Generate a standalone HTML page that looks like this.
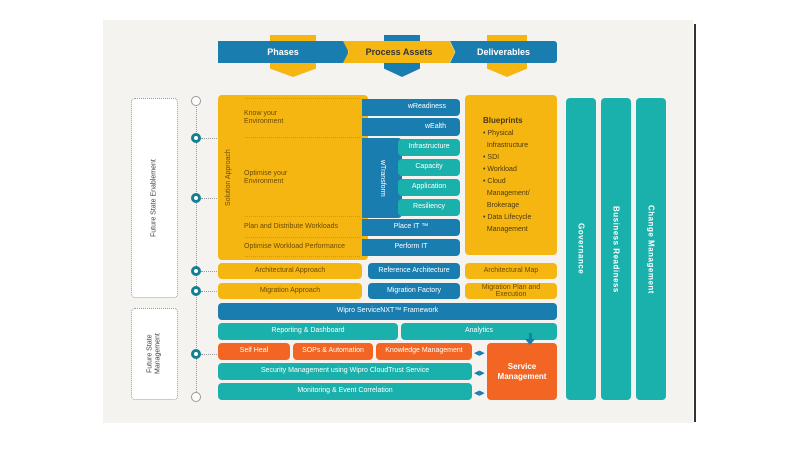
<!DOCTYPE html>
<html><head><style>
body{margin:0;width:800px;height:450px;background:#fff;position:relative;overflow:hidden;font-family:"Liberation Sans",sans-serif}
.a{position:absolute;box-sizing:border-box;display:flex;align-items:center;justify-content:center;text-align:center;font-size:7px;color:#fff;border-radius:4px;line-height:1.15}
.y{background:#f6b612;color:#6b4a00}.b{background:#1a7db0}.t{background:#1ab0ab}.o{background:#f26522}
.c{position:absolute;width:10px;height:10px;border-radius:50%;box-sizing:border-box;border:3px solid #117f95;background:#fff}
.v{writing-mode:vertical-rl;font-weight:bold;font-size:8px;letter-spacing:.5px}
.dl{position:absolute;border-top:1px dotted #999;width:20px}
</style></head><body>
<div style="position:absolute;left:103px;top:20px;width:590px;height:403px;background:#f4f3ef"></div>
<div style="position:absolute;left:694px;top:24px;width:2px;height:398px;background:#333"></div>
<!-- header -->
<div style="position:absolute;left:270px;top:35px;width:46px;height:42px;background:#f6b612;clip-path:polygon(0 0,100% 0,100% 80%,50% 100%,0 80%)"></div>
<div style="position:absolute;left:384px;top:35px;width:36px;height:42px;background:#1a7db0;clip-path:polygon(0 0,100% 0,100% 80%,50% 100%,0 80%)"></div>
<div style="position:absolute;left:487px;top:35px;width:40px;height:42px;background:#f6b612;clip-path:polygon(0 0,100% 0,100% 80%,50% 100%,0 80%)"></div>
<div class="a b" style="left:218px;top:41px;width:130px;height:22px;border-radius:0;font-weight:bold;font-size:9px">Phases</div>
<div class="a y" style="left:343px;top:41px;width:112px;height:22px;border-radius:0;font-weight:bold;font-size:9px;color:#333;clip-path:polygon(0 0,95% 0,100% 50%,95% 100%,0 100%,5% 50%)">Process Assets</div>
<div class="a b" style="left:450px;top:41px;width:107px;height:22px;border-radius:0 3px 3px 0;font-weight:bold;font-size:9px;clip-path:polygon(0 0,100% 0,100% 100%,0 100%,5% 50%)">Deliverables</div>
<!-- left -->
<div style="position:absolute;left:131px;top:98px;width:47px;height:200px;border:1px dotted #999;box-sizing:border-box;border-radius:4px;background:#fff"></div>
<div style="position:absolute;left:131px;top:308px;width:47px;height:92px;border:1px dotted #999;box-sizing:border-box;border-radius:4px;background:#fff"></div>
<div class="a" style="left:131px;top:98px;width:47px;height:200px;color:#444;writing-mode:vertical-rl;transform:rotate(180deg);font-size:7px">Future State Enablement</div>
<div class="a" style="left:131px;top:308px;width:47px;height:92px;color:#444;writing-mode:vertical-rl;transform:rotate(180deg);font-size:7px">Future State<br>Management</div>
<div style="position:absolute;left:196px;top:102px;height:294px;border-left:1px dotted #999"></div>
<div class="c" style="left:191px;top:96px;border:1px solid #999"></div>
<div class="c" style="left:191px;top:392px;border:1px solid #999"></div>
<div class="c" style="left:191px;top:133px"></div><div class="dl" style="left:201px;top:138px"></div>
<div class="c" style="left:191px;top:193px"></div><div class="dl" style="left:201px;top:198px"></div>
<div class="c" style="left:191px;top:266px"></div><div class="dl" style="left:201px;top:271px"></div>
<div class="c" style="left:191px;top:286px"></div><div class="dl" style="left:201px;top:291px"></div>
<div class="c" style="left:191px;top:349px"></div><div class="dl" style="left:201px;top:354px"></div>
<!-- main yellow -->
<div class="a y" style="left:218px;top:95px;width:150px;height:165px"></div>
<div class="a" style="left:222px;top:98px;width:14px;height:160px;color:#6b4a00;writing-mode:vertical-rl;transform:rotate(180deg)">Solution Approach</div>
<div style="position:absolute;left:245px;top:98px;width:115px;border-top:1px dotted #8a7"></div>
<div style="position:absolute;left:245px;top:137px;width:115px;border-top:1px dotted #8a7"></div>
<div style="position:absolute;left:245px;top:216px;width:115px;border-top:1px dotted #8a7"></div>
<div style="position:absolute;left:245px;top:237px;width:115px;border-top:1px dotted #8a7"></div>
<div style="position:absolute;left:245px;top:256px;width:115px;border-top:1px dotted #8a7"></div>
<div class="a" style="left:244px;top:105px;width:80px;height:26px;color:#6b4a00;justify-content:flex-start;text-align:left">Know your<br>Environment</div>
<div class="a" style="left:244px;top:165px;width:80px;height:26px;color:#6b4a00;justify-content:flex-start;text-align:left">Optimise your<br>Environment</div>
<div class="a" style="left:244px;top:219px;width:118px;height:17px;color:#6b4a00;justify-content:flex-start">Plan and Distribute Workloads</div>
<div class="a" style="left:244px;top:239px;width:118px;height:17px;color:#6b4a00;justify-content:flex-start">Optimise Workload Performance</div>
<div class="a b" style="left:362px;top:99px;width:98px;height:17px;justify-content:flex-end;padding-right:14px;border-radius:0 4px 4px 0">wReadiness</div>
<div class="a b" style="left:362px;top:118px;width:98px;height:18px;justify-content:flex-end;padding-right:14px;border-radius:0 4px 4px 0">wEalth</div>
<div class="a b" style="left:362px;top:138px;width:40px;height:80px;border-radius:0 4px 4px 0"><span style="writing-mode:vertical-rl">wTransform</span></div>
<div class="a t" style="left:398px;top:139px;width:62px;height:17px">Infrastructure</div>
<div class="a t" style="left:398px;top:159px;width:62px;height:17px">Capacity</div>
<div class="a t" style="left:398px;top:179px;width:62px;height:17px">Application</div>
<div class="a t" style="left:398px;top:199px;width:62px;height:17px">Resiliency</div>
<div class="a b" style="left:362px;top:219px;width:98px;height:17px;border-radius:0 4px 4px 0">Place IT ™</div>
<div class="a b" style="left:362px;top:239px;width:98px;height:17px;border-radius:0 4px 4px 0">Perform IT</div>
<div class="a y" style="left:465px;top:95px;width:92px;height:160px;align-items:flex-start;justify-content:flex-start;text-align:left;padding:20px 0 0 18px;color:#4a3a10;font-size:7px;line-height:12px"><div><b style="font-size:8px">Blueprints</b><br>• Physical<br>&nbsp;&nbsp;Infrastructure<br>• SDI<br>• Workload<br>• Cloud<br>&nbsp;&nbsp;Management/<br>&nbsp;&nbsp;Brokerage<br>• Data Lifecycle<br>&nbsp;&nbsp;Management</div></div>
<!-- right cols -->
<div class="a t v" style="left:566px;top:98px;width:30px;height:302px">Governance</div>
<div class="a t v" style="left:601px;top:98px;width:30px;height:302px">Business Readiness</div>
<div class="a t v" style="left:636px;top:98px;width:30px;height:302px">Change Management</div>
<!-- rows -->
<div class="a y" style="left:218px;top:263px;width:144px;height:16px">Architectural Approach</div>
<div class="a b" style="left:368px;top:263px;width:92px;height:16px">Reference Architecture</div>
<div class="a y" style="left:465px;top:263px;width:92px;height:16px">Architectural Map</div>
<div class="a y" style="left:218px;top:283px;width:144px;height:16px">Migration Approach</div>
<div class="a b" style="left:368px;top:283px;width:92px;height:16px">Migration Factory</div>
<div class="a y" style="left:465px;top:283px;width:92px;height:16px;line-height:1">Migration Plan and<br>Execution</div>
<div class="a b" style="left:218px;top:303px;width:339px;height:17px">Wipro ServiceNXT™ Framework</div>
<div class="a t" style="left:218px;top:323px;width:180px;height:17px">Reporting &amp; Dashboard</div>
<div class="a t" style="left:401px;top:323px;width:156px;height:17px">Analytics</div>
<div class="a o" style="left:218px;top:343px;width:72px;height:17px">Self Heal</div>
<div class="a o" style="left:293px;top:343px;width:80px;height:17px">SOPs &amp; Automation</div>
<div class="a o" style="left:376px;top:343px;width:96px;height:17px">Knowledge Management</div>
<div class="a t" style="left:218px;top:363px;width:254px;height:17px">Security Management using Wipro CloudTrust Service</div>
<div class="a t" style="left:218px;top:383px;width:254px;height:17px">Monitoring &amp; Event Correlation</div>
<div class="a o" style="left:487px;top:343px;width:70px;height:57px;font-weight:bold;font-size:8px">Service<br>Management</div>
<div style="position:absolute;left:529px;top:333px;width:3px;height:8px;background:#1a7db0"></div>
<div style="position:absolute;left:525px;top:339px;border:5px solid transparent;border-top:6px solid #1a7db0;border-bottom:0"></div>
<div style="position:absolute;left:474px;top:349px;font-size:7px;color:#1a7db0">◀▶</div>
<div style="position:absolute;left:474px;top:369px;font-size:7px;color:#1a7db0">◀▶</div>
<div style="position:absolute;left:474px;top:389px;font-size:7px;color:#1a7db0">◀▶</div>
</body></html>
